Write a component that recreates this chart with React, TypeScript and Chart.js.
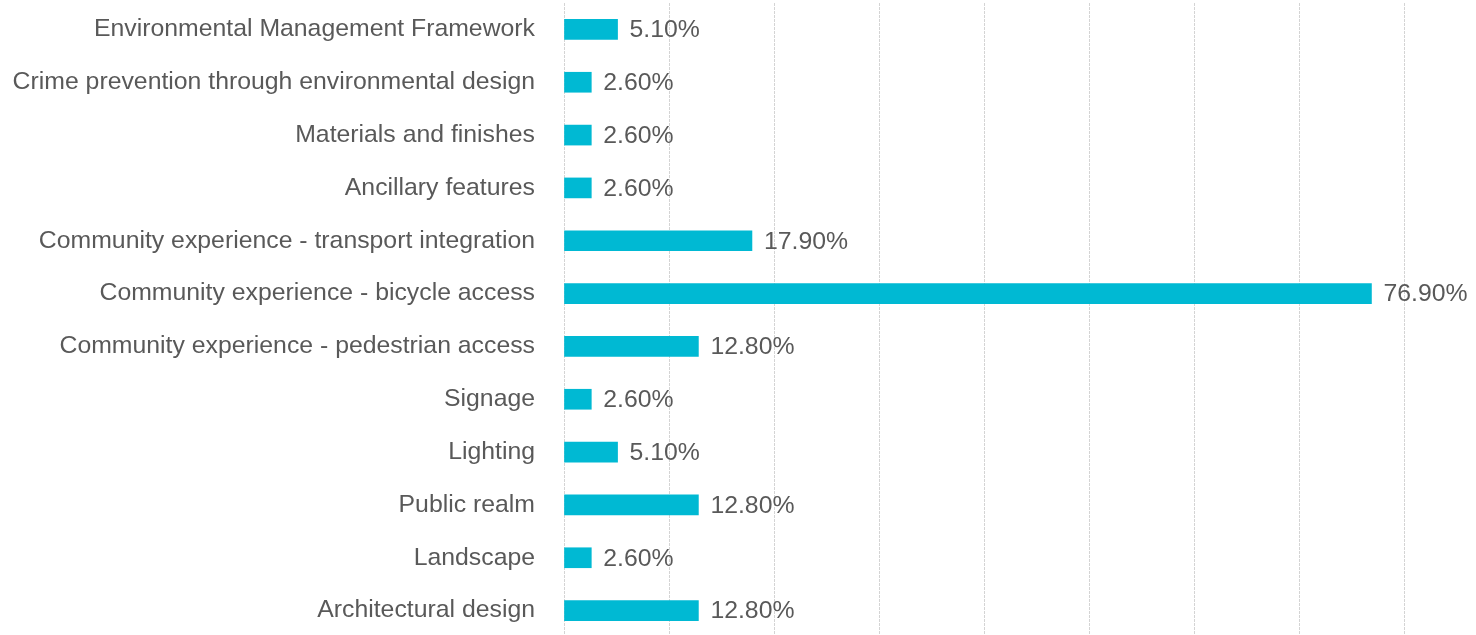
import React, { useEffect, useRef } from "react";
import { Chart, registerables } from "chart.js";

Chart.register(...registerables);

const categories = [
  "Environmental Management Framework",
  "Crime prevention through environmental design",
  "Materials and finishes",
  "Ancillary features",
  "Community experience - transport integration",
  "Community experience - bicycle access",
  "Community experience - pedestrian access",
  "Signage",
  "Lighting",
  "Public realm",
  "Landscape",
  "Architectural design",
];

const values = [5.1, 2.6, 2.6, 2.6, 17.9, 76.9, 12.8, 2.6, 5.1, 12.8, 2.6, 12.8];

const axisMin = 0;
const axisMax = 80;
const axisStep = 10;

const FONT = "'Liberation Sans', Arial, sans-serif";
const TEXT_COLOR = "#595959";
const BAR_COLOR = "#00B9D3";

const valueLabelPlugin = {
  id: "valueLabels",
  afterDatasetsDraw(chart: any) {
    const ctx = chart.ctx;
    const meta = chart.getDatasetMeta(0);
    ctx.save();
    ctx.font = `24.8px ${FONT}`;
    ctx.fillStyle = TEXT_COLOR;
    ctx.textAlign = "left";
    ctx.textBaseline = "middle";
    meta.data.forEach((bar: any, i: number) => {
      const v = chart.data.datasets[0].data[i] as number;
      ctx.fillText(v.toFixed(2) + "%", bar.x + 12, bar.y + 1);
    });
    ctx.restore();
  },
};

export default function App() {
  const canvasRef = useRef<HTMLCanvasElement | null>(null);

  useEffect(() => {
    if (!canvasRef.current) return;
    const chart = new Chart(canvasRef.current, {
      type: "bar",
      data: {
        labels: categories,
        datasets: [
          {
            data: values,
            backgroundColor: BAR_COLOR,
            borderWidth: 0,
            barThickness: 20,
          },
        ],
      },
      plugins: [valueLabelPlugin],
      options: {
        indexAxis: "y",
        animation: false,
        responsive: false,
        maintainAspectRatio: false,
        layout: { padding: { top: 3, right: 72, bottom: 0, left: 0 } },
        plugins: {
          legend: { display: false },
          tooltip: { enabled: false },
        },
        scales: {
          x: {
            min: axisMin,
            max: axisMax,
            ticks: { display: false, stepSize: axisStep },
            grid: {
              color: "#d4d4d4",
              lineWidth: 1,
              drawTicks: false,
            },
            border: { display: false, dash: [3, 1] },
            afterFit(scale: any) {
              scale.height = 0;
              scale.paddingLeft = 0;
              scale.paddingRight = 0;
              scale.paddingTop = 0;
              scale.paddingBottom = 0;
            },
          },
          y: {
            grid: { display: false, drawTicks: false },
            border: { display: false },
            ticks: {
              color: TEXT_COLOR,
              font: { family: FONT, size: 24.8 },
              padding: 29,
              autoSkip: false,
            },
            afterFit(scale: any) {
              scale.width = 564;
              scale.paddingTop = 0;
              scale.paddingBottom = 0;
            },
          },
        },
      },
    });
    return () => chart.destroy();
  }, []);

  return (
    <div
      style={{
        position: "fixed",
        left: 0,
        top: 0,
        width: 1476,
        height: 635,
        overflow: "hidden",
        background: "#ffffff",
      }}
    >
      <canvas ref={canvasRef} width={1476} height={637} style={{ display: "block" }} />
    </div>
  );
}
